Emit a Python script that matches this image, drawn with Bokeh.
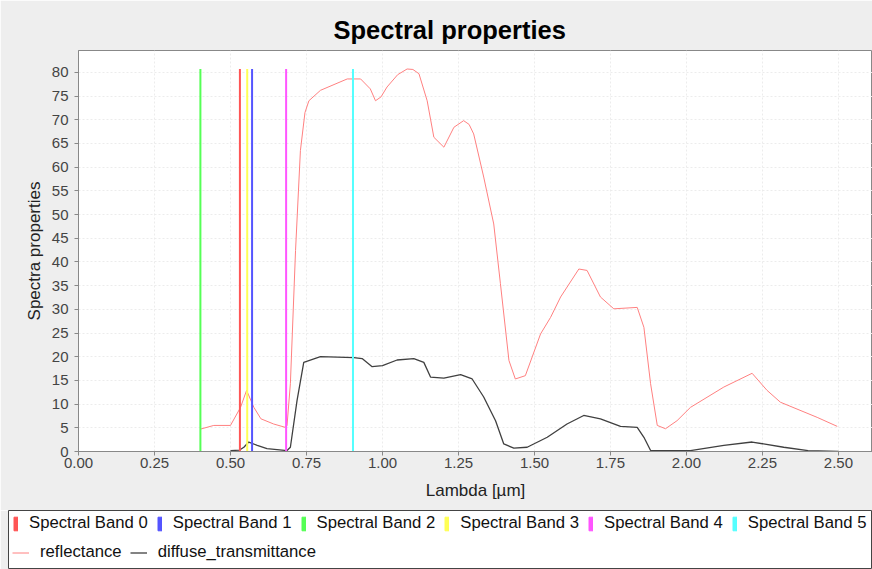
from bokeh.plotting import figure
from bokeh.models import (Range1d, SingleIntervalTicker, NumeralTickFormatter,
                          Legend, LegendItem, ColumnDataSource)
from bokeh.embed import file_html
from bokeh.resources import INLINE

# ---------------- data ----------------
band_names = ["Spectral Band 0", "Spectral Band 1", "Spectral Band 2",
              "Spectral Band 3", "Spectral Band 4", "Spectral Band 5"]
band_wavelengths = [0.531, 0.571, 0.401, 0.555, 0.683, 0.903]
band_colors = ["#ff5555", "#5555ff", "#55ff55", "#ffff55", "#ff55ff", "#55ffff"]

refl_x = [0.40, 0.445, 0.50, 0.533, 0.553, 0.577, 0.60, 0.642, 0.68, 0.686,
          0.697, 0.714, 0.730, 0.745, 0.758, 0.796, 0.884, 0.928, 0.960, 0.977,
          0.995, 1.015, 1.05, 1.081, 1.10, 1.12, 1.147, 1.169, 1.202, 1.235,
          1.267, 1.285, 1.30, 1.333, 1.366, 1.388, 1.416, 1.437, 1.470, 1.52,
          1.553, 1.586, 1.646, 1.673, 1.717, 1.761, 1.838, 1.86, 1.882, 1.904,
          1.931, 1.969, 2.013, 2.123, 2.216, 2.265, 2.309, 2.43, 2.496]
refl_y = [4.7, 5.5, 5.5, 9.3, 12.9, 9.3, 6.9, 5.8, 5.1, 5.5,
          14.3, 42.4, 63.5, 71.5, 74.0, 76.2, 78.6, 78.6, 76.5, 74.0,
          74.8, 76.9, 79.5, 80.7, 80.6, 79.7, 74.0, 66.3, 64.2, 68.4,
          69.8, 69.0, 67.0, 57.9, 48.0, 35.4, 19.2, 15.3, 16.0, 24.8,
          28.3, 32.6, 38.5, 38.2, 32.6, 30.1, 30.4, 26.2, 14.3, 5.5,
          4.8, 6.5, 9.3, 13.6, 16.5, 12.9, 10.4, 7.2, 5.3]

trans_x = [0.50, 0.53, 0.544, 0.56, 0.588, 0.62, 0.686, 0.697, 0.719, 0.741,
           0.796, 0.906, 0.933, 0.966, 1.0, 1.048, 1.103, 1.136, 1.158, 1.202,
           1.257, 1.295, 1.333, 1.372, 1.399, 1.432, 1.476, 1.542, 1.607, 1.662,
           1.717, 1.783, 1.838, 1.86, 1.882, 2.013, 2.123, 2.216, 2.32, 2.40, 2.50]
trans_y = [0.2, 0.3, 0.9, 2.0, 1.3, 0.6, 0.2, 0.9, 10.8, 18.8,
           20.0, 19.8, 19.6, 17.9, 18.1, 19.3, 19.6, 18.8, 15.7, 15.5,
           16.2, 15.3, 11.5, 6.5, 1.6, 0.7, 0.9, 3.0, 5.8, 7.6,
           6.9, 5.3, 5.1, 3.0, 0.2, 0.2, 1.3, 2.0, 0.9, 0.2, 0.0]

x_ticks_step = 0.25
y_ticks_step = 5

FONT = "Liberation Sans"
REFL_COLOR = "#ff8080"
TRANS_COLOR = "#404040"

band_top = max(refl_y)
band_src = ColumnDataSource(dict(
    x=band_wavelengths, y0=[0.0] * len(band_wavelengths),
    y1=[band_top] * len(band_wavelengths), color=band_colors))

# ---------------- main plot ----------------
p = figure(width=872, height=510,
           x_range=Range1d(0, 2.612), y_range=Range1d(0, 84.6),
           output_backend="svg", toolbar_location=None,
           min_border_left=78, min_border_right=0,
           min_border_top=50, min_border_bottom=59,
           title="Spectral properties",
           x_axis_label="Lambda [µm]", y_axis_label="Spectra properties")

p.border_fill_color = "#eeeeee"
p.background_fill_color = "white"
p.outline_line_color = "#888888"

p.title.text_font = FONT
p.title.text_font_size = "25.5px"
p.title.text_font_style = "bold"
p.title.text_color = "black"
p.title.align = "left"
p.title.offset = 255
p.title.standoff = 13

p.xaxis.ticker = SingleIntervalTicker(interval=x_ticks_step)
p.xaxis.formatter = NumeralTickFormatter(format="0.00")
p.yaxis.ticker = SingleIntervalTicker(interval=y_ticks_step)

for ax in (p.xaxis[0], p.yaxis[0]):
    ax.axis_line_color = "#888888"
    ax.major_tick_line_color = "#888888"
    ax.major_tick_out = 4
    ax.major_tick_in = 0
    ax.minor_tick_line_color = None
    ax.major_label_text_font = FONT
    ax.major_label_text_font_size = "15px"
    ax.major_label_text_color = "#444444"
    ax.axis_label_text_font = FONT
    ax.axis_label_text_font_size = "17px"
    ax.axis_label_text_font_style = "normal"
    ax.axis_label_text_color = "#222222"
p.xaxis.major_label_standoff = 2
p.xaxis.axis_label_standoff = 10
p.yaxis.major_label_standoff = 6
p.yaxis.axis_label_standoff = 5

p.grid.grid_line_color = "#ececec"
p.grid.grid_line_dash = "2 2"

p.line(refl_x, refl_y, line_color=REFL_COLOR, line_width=1)
p.line(trans_x, trans_y, line_color=TRANS_COLOR, line_width=1.3)
p.segment(x0="x", y0="y0", x1="x", y1="y1", line_color="color",
          line_width=2, source=band_src)

# ---------------- legend panel (separate root below the plot) ----------------
q = figure(width=872, height=59,
           x_range=Range1d(0, 2.612), y_range=Range1d(1000, 1001),
           output_backend="svg", toolbar_location=None,
           min_border_left=8, min_border_right=0, min_border_top=0,
           min_border_bottom=0,
           x_axis_location=None, y_axis_location=None)
q.background_fill_color = "white"
q.border_fill_color = "#eeeeee"
q.outline_line_color = "#444444"
q.grid.visible = False

# series drawn off-range here: they only provide the legend swatches
band_items = []
for name, wl, c in zip(band_names, band_wavelengths, band_colors):
    r = q.quad(left=[wl], right=[wl], bottom=[0], top=[band_top],
               fill_color=c, line_color=c)
    band_items.append(LegendItem(label=name, renderers=[r]))
r_refl = q.line(refl_x, refl_y, line_color=REFL_COLOR, line_width=1)
r_trans = q.line(trans_x, trans_y, line_color=TRANS_COLOR, line_width=1.3)

common = dict(orientation="horizontal", padding=0, margin=0,
              border_line_alpha=0, background_fill_alpha=0,
              label_text_font=FONT, label_text_font_size="16.7px",
              label_text_color="#111111", label_height=20)

leg1 = Legend(items=band_items, location=(5, 36), glyph_width=5,
              glyph_height=17, label_standoff=11, spacing=9, **common)
leg2 = Legend(items=[LegendItem(label="reflectance", renderers=[r_refl]),
                     LegendItem(label="diffuse_transmittance", renderers=[r_trans])],
              location=(4, 7), glyph_width=17, glyph_height=17,
              label_standoff=11, spacing=8, **common)
q.add_layout(leg1)
q.add_layout(leg2)

open("out.html", "w").write(file_html([p, q], INLINE))
